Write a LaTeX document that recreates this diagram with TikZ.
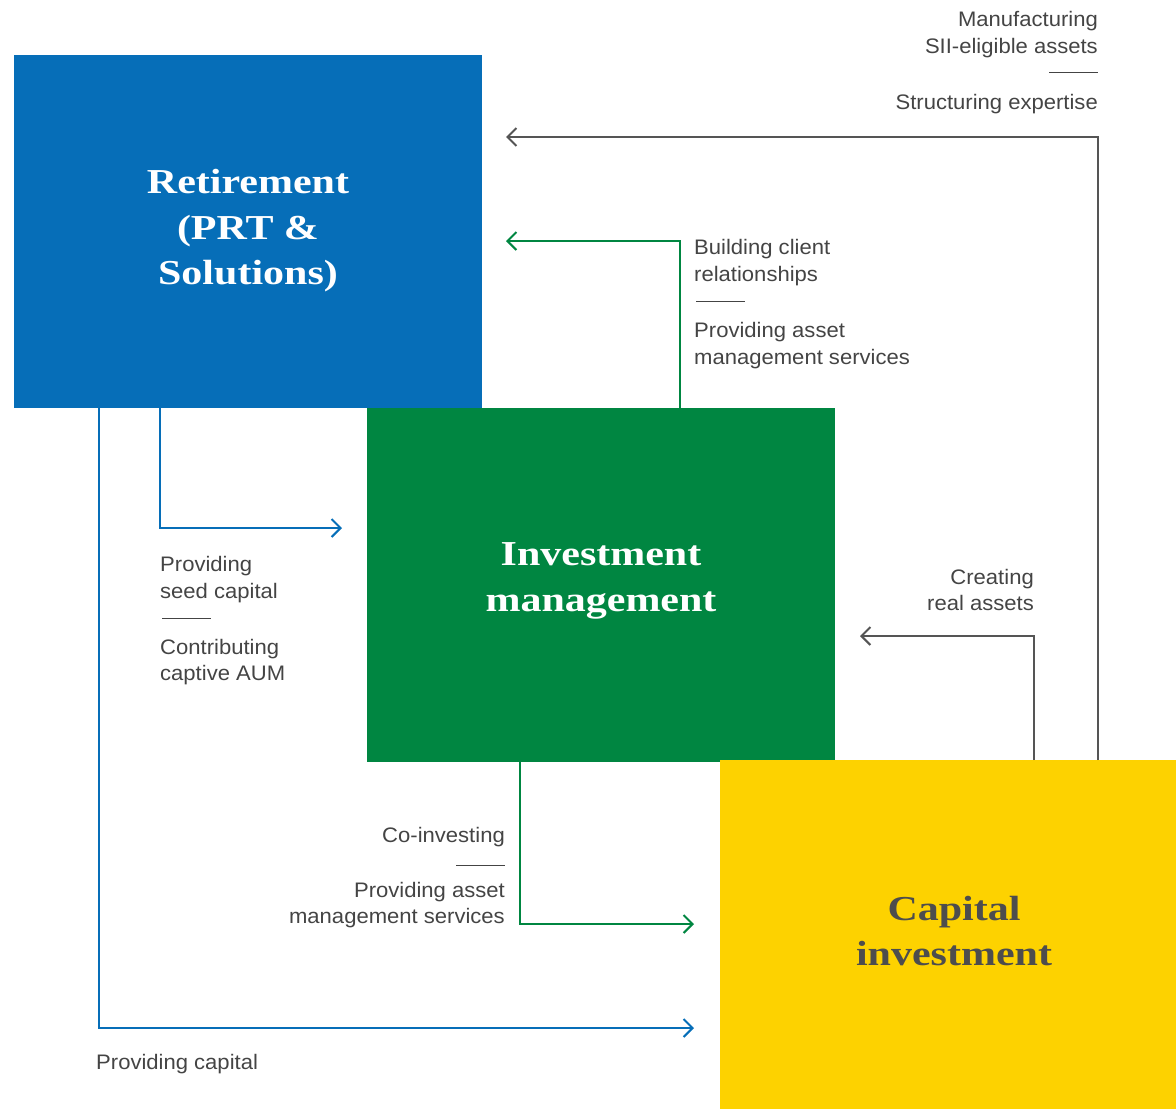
\documentclass[tikz,border=0pt]{standalone}
\usepackage{fontspec}
\usetikzlibrary{arrows.meta}
\newfontfamily\titlefont[FakeStretch=1.2]{Liberation Serif}
\newfontfamily\lblfont[FakeStretch=1.05]{Liberation Sans}
\definecolor{retblue}{RGB}{6,110,184}
\definecolor{invgreen}{RGB}{0,134,65}
\definecolor{capyellow}{RGB}{253,210,0}
\definecolor{lnkgray}{RGB}{85,85,85}
\definecolor{txtgray}{RGB}{68,68,68}
\definecolor{ttlgray}{RGB}{77,77,77}
\begin{document}
\begin{tikzpicture}[x=1pt,y=-1pt,
  box/.style={draw=none,anchor=north west,inner sep=0pt},
  ttl/.style={align=center,inner sep=0pt,font=\titlefont\bfseries\fontsize{35}{45.5}\selectfont},
  lbl/.style={inner sep=0pt,text=txtgray,font=\lblfont\fontsize{21}{27}\selectfont},
  conn/.style={line width=2pt,-{Straight Barb[length=9pt,width=18pt,line width=2pt]}},
  sep/.style={line width=1pt,draw=txtgray}]
\useasboundingbox (0,0) rectangle (1176,1109);
% coloured blocks
\node[box,fill=retblue,minimum width=468pt,minimum height=353pt] (ret) at (14,55) {};
\node[box,fill=invgreen,minimum width=468pt,minimum height=354pt] (inv) at (367,408) {};
\node[box,fill=capyellow,minimum width=456pt,minimum height=349pt] (cap) at (720,760) {};
% block titles
\node[ttl,text=white] (retT) at (248,231) {Retirement\\(PRT \&\\Solutions)};
\node[ttl,text=white] (invT) at (601,581) {Investment\\management};
\node[ttl,text=ttlgray] (capT) at (954,931) {Capital\\investment};
% arrow tips and bends
\coordinate (tA) at (506,137);
\coordinate (tB) at (860,636);
\coordinate (tC) at (506,241);
\coordinate (tD) at (694,924);
\coordinate (tE) at (342,528);
\coordinate (tF) at (694,1028);
% connectors
\draw[conn,lnkgray] (cap.north -| 1098,0) |- (tA);
\draw[conn,lnkgray] (cap.north -| 1034,0) |- (tB);
\draw[conn,invgreen] (inv.north -| 680,0) |- (tC);
\draw[conn,invgreen] (inv.south -| 520,0) |- (tD);
\draw[conn,retblue] (ret.south -| 160,0) |- (tE);
\draw[conn,retblue] (ret.south -| 99,0) |- (tF);
% labels: capital investment -> retirement
\node[lbl,anchor=base east] (a1) at (1098,26) {Manufacturing};
\node[lbl,anchor=base east] (a2) at (1098,53) {SII-eligible assets};
\draw[sep] (1049,72) -- (1098,72);
\node[lbl,anchor=base east] (a3) at (1098,109) {Structuring expertise};
% labels: investment management -> retirement
\node[lbl,anchor=base west] (b1) at (694,254) {Building client};
\node[lbl,anchor=base west] (b2) at (694,281) {relationships};
\draw[sep] (696,301) -- (745,301);
\node[lbl,anchor=base west] (b3) at (694,337) {Providing asset};
\node[lbl,anchor=base west] (b4) at (694,364) {management services};
% labels: retirement -> investment management
\node[lbl,anchor=base west] (c1) at (160,571) {Providing};
\node[lbl,anchor=base west] (c2) at (160,598) {seed capital};
\draw[sep] (162,618) -- (211,618);
\node[lbl,anchor=base west] (c3) at (160,654) {Contributing};
\node[lbl,anchor=base west] (c4) at (160,680) {captive AUM};
% labels: investment management -> capital investment
\node[lbl,anchor=base east] (d1) at (505,842) {Co-investing};
\draw[sep] (456,865) -- (505,865);
\node[lbl,anchor=base east] (d2) at (505,897) {Providing asset};
\node[lbl,anchor=base east] (d3) at (505,923) {management services};
% labels: capital investment -> investment management
\node[lbl,anchor=base east] (e1) at (1034,584) {Creating};
\node[lbl,anchor=base east] (e2) at (1034,610) {real assets};
% labels: retirement -> capital investment
\node[lbl,anchor=base west] (f1) at (96,1069) {Providing capital};
\end{tikzpicture}
\end{document}
